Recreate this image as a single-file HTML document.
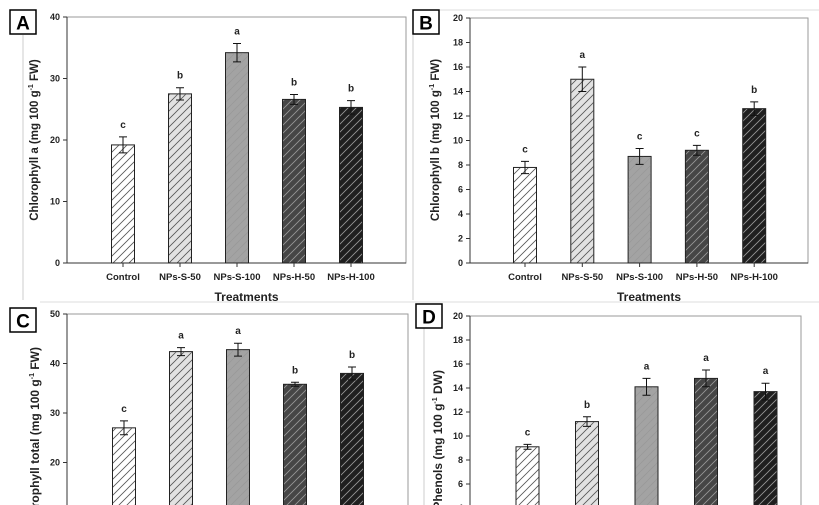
<!DOCTYPE html>
<html><head><meta charset="utf-8"><style>
html,body{margin:0;padding:0;background:#fff;overflow:hidden;width:819px;height:505px;}
svg{display:block;font-family:"Liberation Sans",Arial,sans-serif;}
</style></head><body>
<svg id="fig" width="819" height="505" viewBox="0 0 819 505">
<defs>
<pattern id="hatchL" patternUnits="userSpaceOnUse" width="8" height="8">
<path d="M-2,2 l4,-4 M0,8 l8,-8 M6,10 l4,-4" stroke="#555" stroke-width="0.8"/></pattern>
<pattern id="hatchD" patternUnits="userSpaceOnUse" width="8" height="8">
<path d="M-2,2 l4,-4 M0,8 l8,-8 M6,10 l4,-4" stroke="#999" stroke-width="0.8"/></pattern>
<clipPath id="pageClip"><rect x="0" y="0" width="819" height="505"/></clipPath>
</defs>
<g id="root" clip-path="url(#pageClip)"></g>
</svg>
<script>
const categories = ["Control","NPs-S-50","NPs-S-100","NPs-H-50","NPs-H-100"];
const valuesA = [19.2, 27.5, 34.2, 26.6, 25.3];
const errorsA = [1.3, 1.0, 1.5, 0.8, 1.1];
const lettersA = ["c","b","a","b","b"];
const ticksA = [0,10,20,30,40];
const valuesB = [7.8, 15.0, 8.7, 9.2, 12.6];
const errorsB = [0.5, 1.0, 0.65, 0.4, 0.55];
const lettersB = ["c","a","c","c","b"];
const ticksB = [0,2,4,6,8,10,12,14,16,18,20];
const valuesC = [27.0, 42.4, 42.8, 35.8, 38.0];
const errorsC = [1.4, 0.8, 1.3, 0.4, 1.3];
const lettersC = ["c","a","a","b","b"];
const ticksC = [0,10,20,30,40,50];
const valuesD = [9.1, 11.2, 14.1, 14.8, 13.7];
const errorsD = [0.2, 0.4, 0.7, 0.7, 0.7];
const lettersD = ["c","b","a","a","a"];
const ticksD = [0,2,4,6,8,10,12,14,16,18,20];

const fills = ["#ffffff","#e2e2e2","#a3a3a3","#464646","#1f1f1f"];
const NS = "http://www.w3.org/2000/svg";
const root = document.getElementById("root");
function el(tag, attrs, parent){const e=document.createElementNS(NS,tag);for(const k in attrs)e.setAttribute(k,attrs[k]);(parent||root).appendChild(e);return e;}

function panel(cfg){
  const g = el("g",{});
  
  
  const y = v => cfg.yTop + (cfg.max - v) / cfg.max * (cfg.y0 - cfg.yTop);
  const fr = el("rect",{x:cfg.left,y:cfg.yTop,width:cfg.right-cfg.left,height:cfg.y0-cfg.yTop,fill:"none",stroke:"#9a9a9a","stroke-width":1},g);
  
  
  const ax = el("line",{x1:cfg.left,y1:cfg.yTop,x2:cfg.left,y2:cfg.y0,stroke:"#333","stroke-width":1},g);
  
  
  if (cfg.showX) {
    const xa = el("line",{x1:cfg.left,y1:cfg.y0,x2:cfg.right,y2:cfg.y0,stroke:"#333","stroke-width":1},g);
    
    
  }
  cfg.ticks.forEach(t=>{
    const yy=y(t);
    el("line",{x1:cfg.left-4,y1:yy,x2:cfg.left,y2:yy,stroke:"#333","stroke-width":1},g);
    const tl = el("text",{x:cfg.left-7,y:yy+3,"text-anchor":"end","font-size":cfg.tickFs,"font-weight":"bold",fill:"#222"},g);
    tl.textContent=t;
    
    
  });
  const bw = 23;
  cfg.values.forEach((v,i)=>{
    const cx = cfg.x0 + i*cfg.step;
    const top=y(v), bot=cfg.y0;
    const b = el("rect",{x:cx-bw/2,y:top,width:bw,height:bot-top,fill:fills[i],stroke:"#222","stroke-width":1},g);
    
    
    el("rect",{x:cx-bw/2+0.5,y:top+0.5,width:bw-1,height:bot-top-1,fill:i<2?"url(#hatchL)":"url(#hatchD)"},g);
    const e=cfg.errors[i], yh=y(v+e), yl=y(v-e);
    const eb = el("path",{d:`M${cx},${yh}V${yl}M${cx-4},${yh}H${cx+4}M${cx-4},${yl}H${cx+4}`,stroke:"#111","stroke-width":1,fill:"none"},g);
    
    
    const lt = el("text",{x:cx,y:yh-9,"text-anchor":"middle","font-size":10,"font-weight":"bold",fill:"#222"},g);
    lt.textContent=cfg.letters[i];
    
    
    if (cfg.showX) {
      el("line",{x1:cx,y1:cfg.y0,x2:cx,y2:cfg.y0+4,stroke:"#333"},g);
      const cl = el("text",{x:cx,y:cfg.y0+17,"text-anchor":"middle","font-size":9.5,"font-weight":"bold",fill:"#222"},g);
      cl.textContent=categories[i];
      
      
    }
  });
  if (cfg.showX) {
    const xt = el("text",{x:(cfg.left+cfg.right)/2+10,y:cfg.y0+38,"text-anchor":"middle","font-size":12,"font-weight":"bold",fill:"#222"},g);
    xt.textContent="Treatments";
    
    
  }
  const yt = el("text",{transform:`translate(${cfg.titleX},${cfg.titleY}) rotate(-90)`,"text-anchor":cfg.titleAnchor,"font-size":cfg.titleFs||11.5,"font-weight":"bold",fill:"#222"},g);
  yt.innerHTML = cfg.title;
  
  
  const bx = el("rect",{x:cfg.boxX,y:cfg.boxY,width:26,height:24,fill:"#fff",stroke:"#000","stroke-width":1.5},g);
  
  
  const bl = el("text",{x:cfg.boxX+13,y:cfg.boxY+19.5,"text-anchor":"middle","font-size":19,"font-weight":"bold",fill:"#000"},g);
  bl.textContent=cfg.label;
  
  
}
el("line",{x1:23,y1:35,x2:23,y2:300,stroke:"#ccc"});
el("line",{x1:413,y1:35,x2:413,y2:300,stroke:"#ccc"});
el("line",{x1:440,y1:10,x2:819,y2:10,stroke:"#ddd"});
el("line",{x1:40,y1:302,x2:819,y2:302,stroke:"#ddd"});
el("line",{x1:424,y1:328,x2:424,y2:505,stroke:"#ccc"});

const sup = 'g<tspan font-size="7" dy="-5">-1</tspan><tspan dy="5"> </tspan>';
panel({name:"panel-a-chlorophyll-a",showX:true,values:valuesA,errors:errorsA,letters:lettersA,ticks:ticksA,max:40,left:67,right:406,yTop:17,y0:263,x0:123,step:57,tickFs:9,title:"Chlorophyll a (mg 100 "+sup+"FW)",titleX:38,titleY:140,titleAnchor:"middle",boxX:10,boxY:10,label:"A"});
panel({name:"panel-b-chlorophyll-b",showX:true,values:valuesB,errors:errorsB,letters:lettersB,ticks:ticksB,max:20,left:470,right:808,yTop:18,y0:263,x0:525,step:57.3,tickFs:9,title:"Chlorophyll b (mg 100 "+sup+"FW)",titleX:439,titleY:140,titleAnchor:"middle",boxX:413,boxY:10,label:"B"});
panel({name:"panel-c-chlorophyll-total",showX:false,values:valuesC,errors:errorsC,letters:lettersC,ticks:ticksC,max:50,left:67,right:408,yTop:314,y0:561.5,x0:124,step:57,tickFs:9,titleFs:12,title:"Chlorophyll total (mg 100 "+sup+"FW)",titleX:39,titleY:347,titleAnchor:"end",boxX:10,boxY:308,label:"C"});
panel({name:"panel-d-phenols",showX:false,values:valuesD,errors:errorsD,letters:lettersD,ticks:ticksD,max:20,left:470,right:801,yTop:316,y0:556,x0:527.5,step:59.5,tickFs:9,titleFs:12,title:"Phenols (mg 100 "+sup+"DW)",titleX:442,titleY:370,titleAnchor:"end",boxX:416,boxY:304,label:"D"});
</script>
</body></html>
